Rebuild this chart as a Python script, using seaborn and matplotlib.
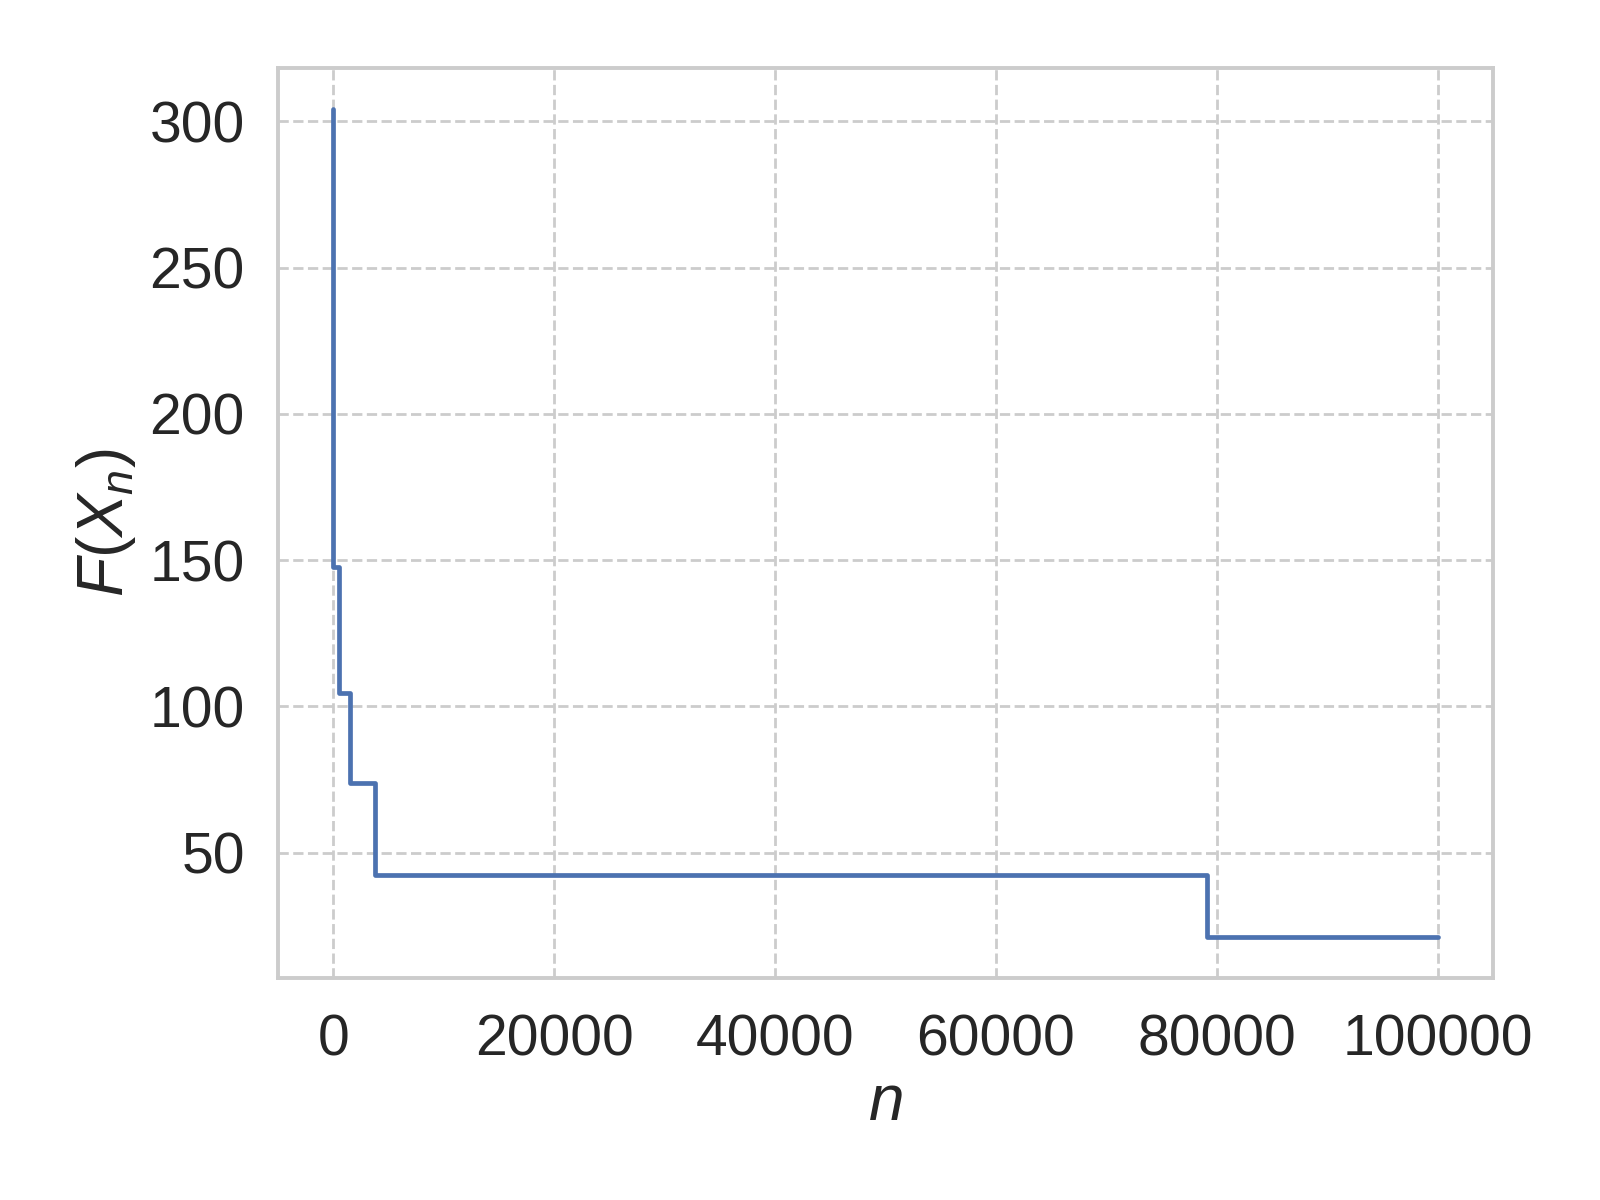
import numpy as np
import pandas as pd
import matplotlib
matplotlib.use("Agg")
import matplotlib.pyplot as plt
import seaborn as sns

# Best objective value so far, recorded at the iterations where it improved
n_values = [0, 1, 560, 1480, 3790, 79130, 100000]
f_values = [304.1, 147.6, 104.5, 73.9, 42.3, 21.3, 21.3]

sns.set_theme(style="whitegrid", rc={"grid.linestyle": "--"})
plt.rcParams["font.family"] = ["Liberation Sans", "DejaVu Sans"]
plt.rcParams["mathtext.fontset"] = "custom"
plt.rcParams["mathtext.it"] = "Liberation Sans:italic"
plt.rcParams["mathtext.rm"] = "Liberation Sans"

df = pd.DataFrame({"n": n_values, "F": f_values})

fig, ax = plt.subplots(figsize=(8, 6), dpi=200)
sns.lineplot(data=df, x="n", y="F", ax=ax, color="#4c72b0", linewidth=1.7,
             drawstyle="steps-post", estimator=None, solid_capstyle="round",
             solid_joinstyle="round")
ax.set_xlabel("$n$", fontsize=23, labelpad=2)
ax.set_ylabel("$F(X_n)$", fontsize=23, labelpad=4)
ax.tick_params(axis="x", labelsize=20.5, pad=6.8)
ax.tick_params(axis="y", labelsize=20.5, pad=6)
ax.set_xticks([0, 20000, 40000, 60000, 80000, 100000])
ax.set_yticks([50, 100, 150, 200, 250, 300])
for s in ax.spines.values():
    s.set_linewidth(1.4)
    s.set_color("#cccccc")
ax.grid(True, linestyle="--", linewidth=1.0, color="#cccccc")
fig.subplots_adjust(left=0.17375, right=0.933, top=0.9433, bottom=0.185)
fig.savefig("out.png", dpi=200)
